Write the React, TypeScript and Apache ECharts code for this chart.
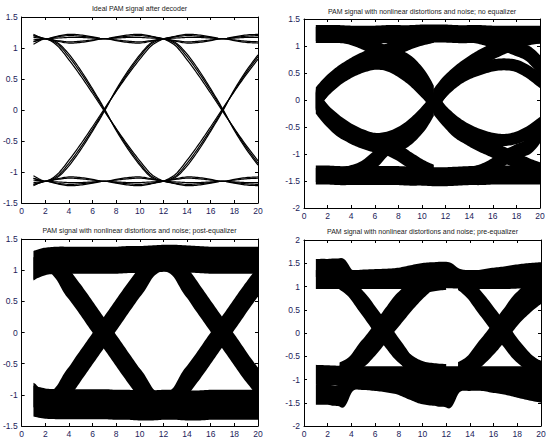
import React, { useEffect, useRef } from "react";
import * as echarts from "echarts";

// ---------- axis ticks / titles ----------
const X_TICKS = [0, 2, 4, 6, 8, 10, 12, 14, 16, 18, 20];
const TITLES = [
  "Ideal PAM signal after decoder",
  "PAM signal with nonlinear distortions and noise; no equalizer",
  "PAM signal with nonlinear distortions and noise; post-equalizer",
  "PAM signal with nonlinear distortions and noise; pre-equalizer",
];
const Y_RANGES = [
  [-1.5, 1.5],
  [-2, 1.5],
  [-1.5, 1.5],
  [-2, 2],
];

// ---------- sample positions ----------
const X_FULL = [1, 2, 3, 4, 5, 6, 7, 8, 9, 10, 11, 12, 13, 14, 15, 16, 17, 18, 19, 20];
const X_A = [1, 2, 3, 4, 5, 6, 7, 8, 9, 10, 11, 12];
const X_B = [12, 13, 14, 15, 16, 17, 18, 19, 20];
const X_L = [1, 2, 3, 4, 5, 6, 7, 8, 9, 10, 11];
const X_R = [11, 12, 13, 14, 15, 16, 17, 18, 19, 20];
const X_P4L = [3, 4, 5, 6, 7, 8, 9, 10, 11, 12];
const X_P4R = [13, 14, 15, 16, 17, 18, 19, 20];

// ---------- panel 1: ideal PAM ----------
const p1FallA1 = [1.2, 1.15, 1.07, 0.86, 0.6, 0.31, 0.0, -0.31, -0.6, -0.86, -1.07, -1.15];
const p1FallA2 = [1.1, 1.15, 1.04, 0.81, 0.55, 0.27, -0.02, -0.3, -0.57, -0.82, -1.04, -1.15];
const p1FallA3 = [1.06, 1.15, 1.09, 0.9, 0.64, 0.34, 0.02, -0.33, -0.63, -0.89, -1.09, -1.15];
const p1RiseA1 = [-1.2, -1.15, -1.07, -0.86, -0.6, -0.31, 0.0, 0.31, 0.6, 0.86, 1.07, 1.15];
const p1RiseA2 = [-1.1, -1.15, -1.04, -0.81, -0.55, -0.27, 0.02, 0.3, 0.57, 0.82, 1.04, 1.15];
const p1RiseA3 = [-1.06, -1.15, -1.09, -0.9, -0.64, -0.34, -0.02, 0.33, 0.63, 0.89, 1.09, 1.15];
const p1FallB1 = [1.15, 1.07, 0.86, 0.6, 0.31, 0.0, -0.31, -0.6, -0.86];
const p1FallB2 = [1.15, 1.04, 0.81, 0.55, 0.27, -0.02, -0.3, -0.57, -0.82];
const p1FallB3 = [1.15, 1.09, 0.9, 0.64, 0.34, 0.02, -0.33, -0.63, -0.89];
const p1RiseB1 = [-1.15, -1.07, -0.86, -0.6, -0.31, 0.0, 0.31, 0.6, 0.86];
const p1RiseB2 = [-1.15, -1.04, -0.81, -0.55, -0.27, 0.02, 0.3, 0.57, 0.82];
const p1RiseB3 = [-1.15, -1.09, -0.9, -0.64, -0.34, -0.02, 0.33, 0.63, 0.89];
const p1TopA1 = [1.22, 1.15, 1.19, 1.22, 1.21, 1.18, 1.15, 1.18, 1.21, 1.22, 1.19, 1.15];
const p1TopA2 = [1.17, 1.15, 1.11, 1.08, 1.09, 1.12, 1.15, 1.12, 1.09, 1.08, 1.11, 1.15];
const p1TopA3 = [1.13, 1.15, 1.16, 1.17, 1.17, 1.16, 1.15, 1.16, 1.17, 1.17, 1.16, 1.15];
const p1TopA4 = [1.2, 1.15, 1.18, 1.2, 1.19, 1.17, 1.15, 1.17, 1.19, 1.2, 1.18, 1.15];
const p1TopA5 = [1.1, 1.15, 1.12, 1.1, 1.11, 1.13, 1.15, 1.13, 1.11, 1.1, 1.12, 1.15];
const p1TopB1 = [1.15, 1.19, 1.22, 1.21, 1.18, 1.15, 1.18, 1.21, 1.22];
const p1TopB2 = [1.15, 1.11, 1.08, 1.09, 1.12, 1.15, 1.12, 1.09, 1.08];
const p1TopB3 = [1.15, 1.16, 1.17, 1.17, 1.16, 1.15, 1.16, 1.17, 1.17];
const p1TopB4 = [1.15, 1.18, 1.2, 1.19, 1.17, 1.15, 1.17, 1.19, 1.2];
const p1TopB5 = [1.15, 1.12, 1.1, 1.11, 1.13, 1.15, 1.13, 1.11, 1.1];
const p1BotA1 = [-1.22, -1.15, -1.19, -1.22, -1.21, -1.18, -1.15, -1.18, -1.21, -1.22, -1.19, -1.15];
const p1BotA2 = [-1.17, -1.15, -1.11, -1.08, -1.09, -1.12, -1.15, -1.12, -1.09, -1.08, -1.11, -1.15];
const p1BotA3 = [-1.13, -1.15, -1.16, -1.17, -1.17, -1.16, -1.15, -1.16, -1.17, -1.17, -1.16, -1.15];
const p1BotA4 = [-1.2, -1.15, -1.18, -1.2, -1.19, -1.17, -1.15, -1.17, -1.19, -1.2, -1.18, -1.15];
const p1BotA5 = [-1.1, -1.15, -1.12, -1.1, -1.11, -1.13, -1.15, -1.13, -1.11, -1.1, -1.12, -1.15];
const p1BotB1 = [-1.15, -1.19, -1.22, -1.21, -1.18, -1.15, -1.18, -1.21, -1.22];
const p1BotB2 = [-1.15, -1.11, -1.08, -1.09, -1.12, -1.15, -1.12, -1.09, -1.08];
const p1BotB3 = [-1.15, -1.16, -1.17, -1.17, -1.16, -1.15, -1.16, -1.17, -1.17];
const p1BotB4 = [-1.15, -1.18, -1.2, -1.19, -1.17, -1.15, -1.17, -1.19, -1.2];
const p1BotB5 = [-1.15, -1.12, -1.1, -1.11, -1.13, -1.15, -1.13, -1.11, -1.1];

// ---------- panel 2: no equalizer ----------
const p2Top = [1.22, 1.22, 1.22, 1.21, 1.21, 1.21, 1.22, 1.22, 1.22, 1.23, 1.23, 1.23, 1.22, 1.22, 1.22, 1.21, 1.21, 1.21, 1.21, 1.21];
const p2Bot = [-1.39, -1.39, -1.4, -1.4, -1.4, -1.4, -1.4, -1.4, -1.41, -1.41, -1.42, -1.42, -1.41, -1.4, -1.4, -1.39, -1.39, -1.39, -1.39, -1.39];
const p2RiseL = [0.02, 0.27, 0.47, 0.62, 0.74, 0.83, 0.9, 0.99, 1.08, 1.15, 1.2];
const p2ArcUpL = [0.0, 0.22, 0.4, 0.53, 0.62, 0.67, 0.65, 0.55, 0.4, 0.2, -0.03];
const p2FallL = [1.22, 1.22, 1.2, 1.15, 1.07, 0.97, 0.87, 0.8, 0.65, 0.38, 0.0];
const p2DropL = [-0.03, -0.3, -0.52, -0.66, -0.76, -0.83, -0.88, -0.98, -1.12, -1.25, -1.35];
const p2ArcDnL = [-0.02, -0.24, -0.42, -0.56, -0.66, -0.72, -0.7, -0.62, -0.48, -0.28, -0.04];
const p2ClimbL = [-1.39, -1.39, -1.38, -1.34, -1.26, -1.1, -0.9, -0.82, -0.66, -0.4, -0.04];
const p2RiseR = [-0.02, 0.26, 0.48, 0.65, 0.79, 0.9, 1.0, 1.09, 1.15, 1.19];
const p2ArcUpR = [-0.04, 0.2, 0.38, 0.5, 0.58, 0.64, 0.66, 0.63, 0.52, 0.36];
const p2FallR = [1.23, 1.23, 1.22, 1.2, 1.16, 1.1, 1.03, 0.95, 0.85, 0.65];
const p2DropR = [-0.05, -0.32, -0.55, -0.7, -0.82, -0.92, -1.02, -1.12, -1.22, -1.3];
const p2ArcDnR = [-0.05, -0.26, -0.44, -0.57, -0.66, -0.72, -0.74, -0.7, -0.6, -0.45];
const p2ClimbR = [-1.41, -1.41, -1.4, -1.37, -1.32, -1.22, -1.07, -0.96, -0.85, -0.6];

// ---------- panel 3: post-equalizer ----------
const p3Top = [1.08, 1.14, 1.16, 1.16, 1.16, 1.16, 1.16, 1.16, 1.17, 1.17, 1.18, 1.19, 1.19, 1.18, 1.17, 1.16, 1.16, 1.16, 1.16, 1.16];
const p3Bot = [-1.1, -1.14, -1.15, -1.15, -1.15, -1.15, -1.15, -1.16, -1.16, -1.17, -1.17, -1.16, -1.16, -1.17, -1.17, -1.16, -1.16, -1.16, -1.16, -1.16];
const p3FallA = [1.02, 1.15, 1.04, 0.78, 0.52, 0.25, -0.02, -0.29, -0.56, -0.82, -1.06, -1.15];
const p3RiseA = [-1.0, -1.15, -1.05, -0.8, -0.53, -0.26, 0.01, 0.28, 0.55, 0.81, 1.05, 1.15];
const p3FallB = [1.15, 1.05, 0.8, 0.53, 0.26, -0.01, -0.28, -0.55, -0.8];
const p3RiseB = [-1.15, -1.04, -0.78, -0.52, -0.25, 0.02, 0.29, 0.56, 0.82];

// ---------- panel 4: pre-equalizer ----------
const p4TopMain = [1.15, 1.15, 1.15, 1.15, 1.15, 1.15, 1.15, 1.15, 1.16, 1.17, 1.17, 1.17, 1.16, 1.15, 1.15, 1.15, 1.15, 1.16, 1.17, 1.18];
const p4TopUpper = [1.4, 1.4, 1.39, 1.16, 1.17, 1.18, 1.19, 1.21, 1.26, 1.31, 1.33, 1.33, 1.19, 1.14, 1.17, 1.21, 1.24, 1.28, 1.31, 1.33];
const p4BotMain = [-0.9, -0.91, -0.92, -0.93, -0.93, -0.93, -0.93, -0.93, -0.93, -0.93, -0.93, -0.93, -0.93, -0.93, -0.93, -0.93, -0.93, -0.93, -0.93, -0.93];
const p4BotLower = [-1.33, -1.33, -1.33, -1.03, -1.01, -1.03, -1.06, -1.11, -1.21, -1.31, -1.35, -1.35, -1.06, -1.03, -1.03, -1.07, -1.11, -1.17, -1.23, -1.28];
const p4F1 = [1.12, 0.92, 0.6, 0.25, -0.1, -0.42, -0.64, -0.76, -0.8, -0.82];
const p4R1 = [-0.8, -0.66, -0.36, -0.04, 0.32, 0.66, 0.9, 1.0, 1.05, 1.08];
const p4R2 = [-0.85, -0.75, -0.55, -0.27, 0.05, 0.36, 0.66, 0.92, 1.12, 1.2];
const p4F2 = [1.1, 0.95, 0.68, 0.34, 0.0, -0.35, -0.7, -0.98, -1.18, -1.28];
const p4F1r = [1.12, 0.9, 0.58, 0.24, -0.1, -0.42, -0.64, -0.76];
const p4R1r = [-0.8, -0.64, -0.34, -0.02, 0.32, 0.66, 0.9, 1.0];
const p4R2r = [-0.85, -0.74, -0.52, -0.25, 0.06, 0.36, 0.6, 0.8];
const p4F2r = [1.1, 0.95, 0.66, 0.33, 0.0, -0.33, -0.6, -0.78];

const FONT = "'Liberation Sans', Arial, sans-serif";
const LABEL_COLOR = "#1c1c5a";

// smooth centre line through pixel points (Catmull-Rom), used only for drawing
function smoothPath(pts: number[][], steps: number): number[][] {
  const out: number[][] = [];
  const n = pts.length;
  for (let i = 0; i < n - 1; i++) {
    const p0 = pts[Math.max(0, i - 1)];
    const p1 = pts[i];
    const p2 = pts[i + 1];
    const p3 = pts[Math.min(n - 1, i + 2)];
    for (let k = 0; k < steps; k++) {
      const t = k / steps;
      const t2 = t * t;
      const t3 = t2 * t;
      const q = [0, 1].map(
        (d) =>
          0.5 *
          (2 * p1[d] +
            (-p0[d] + p2[d]) * t +
            (2 * p0[d] - 5 * p1[d] + 4 * p2[d] - p3[d]) * t2 +
            (-p0[d] + 3 * p1[d] - 3 * p2[d] + p3[d]) * t3)
      );
      out.push(q);
    }
  }
  out.push(pts[n - 1]);
  return out;
}

function trace(xs: number[], ys: number[], g: number, width: number) {
  return {
    type: "custom",
    xAxisIndex: g,
    yAxisIndex: g,
    clip: true,
    silent: true,
    data: xs.map((x, i) => [x, ys[i]]),
    encode: { x: 0, y: 1 },
    renderItem: (params: any, api: any) => {
      if (params.dataIndex !== 0) return null;
      const pts = xs.map((x, i) => api.coord([x, ys[i]]));
      const dense = smoothPath(pts, 8);
      if (width <= 2) {
        return {
          type: "polyline",
          shape: { points: dense },
          style: { stroke: "#000", lineWidth: width, fill: null },
        };
      }
      const upper: number[][] = [];
      const lower: number[][] = [];
      for (let i = 0; i < dense.length; i++) {
        const a = dense[Math.max(0, i - 1)];
        const b = dense[Math.min(dense.length - 1, i + 1)];
        const dx = b[0] - a[0];
        const s = dx !== 0 ? (b[1] - a[1]) / dx : 0;
        const h = Math.min((width / 2) * Math.sqrt(1 + s * s), width * 2.5);
        upper.push([dense[i][0], dense[i][1] - h]);
        lower.push([dense[i][0], dense[i][1] + h]);
      }
      return {
        type: "polygon",
        shape: { points: upper.concat(lower.reverse()) },
        style: { fill: "#000", stroke: null },
      };
    },
  };
}

const GRIDS = [
  { left: 21, top: 17, width: 237, height: 186 },
  { left: 304, top: 19, width: 236, height: 189 },
  { left: 21, top: 239, width: 237, height: 187 },
  { left: 304, top: 240, width: 237, height: 186 },
];
const TITLE_POS = [
  [139.5, 5],
  [422, 8],
  [139.5, 227],
  [422.5, 228],
];

export default function App() {
  const ref = useRef<HTMLDivElement>(null);
  useEffect(() => {
    document.body.style.margin = "0";
    const chart = echarts.init(ref.current!, null, { renderer: "svg" });
    const xAxes: any[] = [];
    const yAxes: any[] = [];
    for (let k = 0; k < 2; k++) {
      for (let g = 0; g < 4; g++) {
        const main = k === 0;
        xAxes.push({
          type: "value",
          gridIndex: g,
          min: X_TICKS[0],
          max: X_TICKS[X_TICKS.length - 1],
          interval: 2,
          position: main ? "bottom" : "top",
          axisLine: { show: true, onZero: false, lineStyle: { color: "#000", width: 1 } },
          axisTick: { show: true, inside: true, length: 3, lineStyle: { color: "#000" } },
          axisLabel: { show: main, fontSize: 8.5, color: LABEL_COLOR, margin: 3, fontFamily: FONT },
          splitLine: { show: false },
        });
        yAxes.push({
          type: "value",
          gridIndex: g,
          min: Y_RANGES[g][0],
          max: Y_RANGES[g][1],
          interval: 0.5,
          position: main ? "left" : "right",
          axisLine: { show: true, onZero: false, lineStyle: { color: "#000", width: 1 } },
          axisTick: { show: true, inside: true, length: 3, lineStyle: { color: "#000" } },
          axisLabel: { show: main, fontSize: 8.5, color: LABEL_COLOR, margin: 4, fontFamily: FONT },
          splitLine: { show: false },
        });
      }
    }

    const W1 = 1.2;
    const series: any[] = [
      // panel 1
      trace(X_A, p1TopA1, 0, W1), trace(X_A, p1TopA2, 0, W1), trace(X_A, p1TopA3, 0, W1),
      trace(X_A, p1TopA4, 0, W1), trace(X_A, p1TopA5, 0, W1),
      trace(X_B, p1TopB1, 0, W1), trace(X_B, p1TopB2, 0, W1), trace(X_B, p1TopB3, 0, W1),
      trace(X_B, p1TopB4, 0, W1), trace(X_B, p1TopB5, 0, W1),
      trace(X_A, p1BotA1, 0, W1), trace(X_A, p1BotA2, 0, W1), trace(X_A, p1BotA3, 0, W1),
      trace(X_A, p1BotA4, 0, W1), trace(X_A, p1BotA5, 0, W1),
      trace(X_B, p1BotB1, 0, W1), trace(X_B, p1BotB2, 0, W1), trace(X_B, p1BotB3, 0, W1),
      trace(X_B, p1BotB4, 0, W1), trace(X_B, p1BotB5, 0, W1),
      trace(X_A, p1FallA1, 0, W1), trace(X_A, p1FallA2, 0, W1), trace(X_A, p1FallA3, 0, W1),
      trace(X_A, p1RiseA1, 0, W1), trace(X_A, p1RiseA2, 0, W1), trace(X_A, p1RiseA3, 0, W1),
      trace(X_B, p1FallB1, 0, W1), trace(X_B, p1FallB2, 0, W1), trace(X_B, p1FallB3, 0, W1),
      trace(X_B, p1RiseB1, 0, W1), trace(X_B, p1RiseB2, 0, W1), trace(X_B, p1RiseB3, 0, W1),
      // panel 2
      trace(X_FULL, p2Top, 1, 18), trace(X_FULL, p2Bot, 1, 19),
      trace(X_L, p2RiseL, 1, 15), trace(X_L, p2ArcUpL, 1, 12), trace(X_L, p2FallL, 1, 14),
      trace(X_L, p2DropL, 1, 15), trace(X_L, p2ArcDnL, 1, 12), trace(X_L, p2ClimbL, 1, 14),
      trace(X_R, p2RiseR, 1, 15), trace(X_R, p2ArcUpR, 1, 12), trace(X_R, p2FallR, 1, 14),
      trace(X_R, p2DropR, 1, 15), trace(X_R, p2ArcDnR, 1, 12), trace(X_R, p2ClimbR, 1, 14),
      // panel 3
      trace(X_FULL, p3Top, 2, 27), trace(X_FULL, p3Bot, 2, 30),
      trace(X_A, p3FallA, 2, 18), trace(X_A, p3RiseA, 2, 18),
      trace(X_B, p3FallB, 2, 18), trace(X_B, p3RiseB, 2, 18),
      // panel 4
      trace(X_FULL, p4TopMain, 3, 19), trace(X_FULL, p4TopUpper, 3, 18),
      trace(X_FULL, p4BotMain, 3, 20), trace(X_FULL, p4BotLower, 3, 20),
      trace(X_P4L, p4F1, 3, 14), trace(X_P4L, p4R1, 3, 14),
      trace(X_P4L, p4R2, 3, 13), trace(X_P4L, p4F2, 3, 13),
      trace(X_P4R, p4F1r, 3, 14), trace(X_P4R, p4R1r, 3, 14),
      trace(X_P4R, p4R2r, 3, 13), trace(X_P4R, p4F2r, 3, 13),
    ];

    chart.setOption({
      animation: false,
      backgroundColor: "#fff",
      title: TITLES.map((t, i) => ({
        text: t,
        left: TITLE_POS[i][0],
        top: TITLE_POS[i][1],
        textAlign: "center",
        padding: 0,
        textStyle: { fontSize: 7, fontWeight: "normal", color: "#222", fontFamily: FONT },
      })),
      grid: GRIDS,
      xAxis: xAxes,
      yAxis: yAxes,
      series,
    });
    return () => chart.dispose();
  }, []);
  return <div ref={ref} style={{ width: 550, height: 444 }} />;
}
